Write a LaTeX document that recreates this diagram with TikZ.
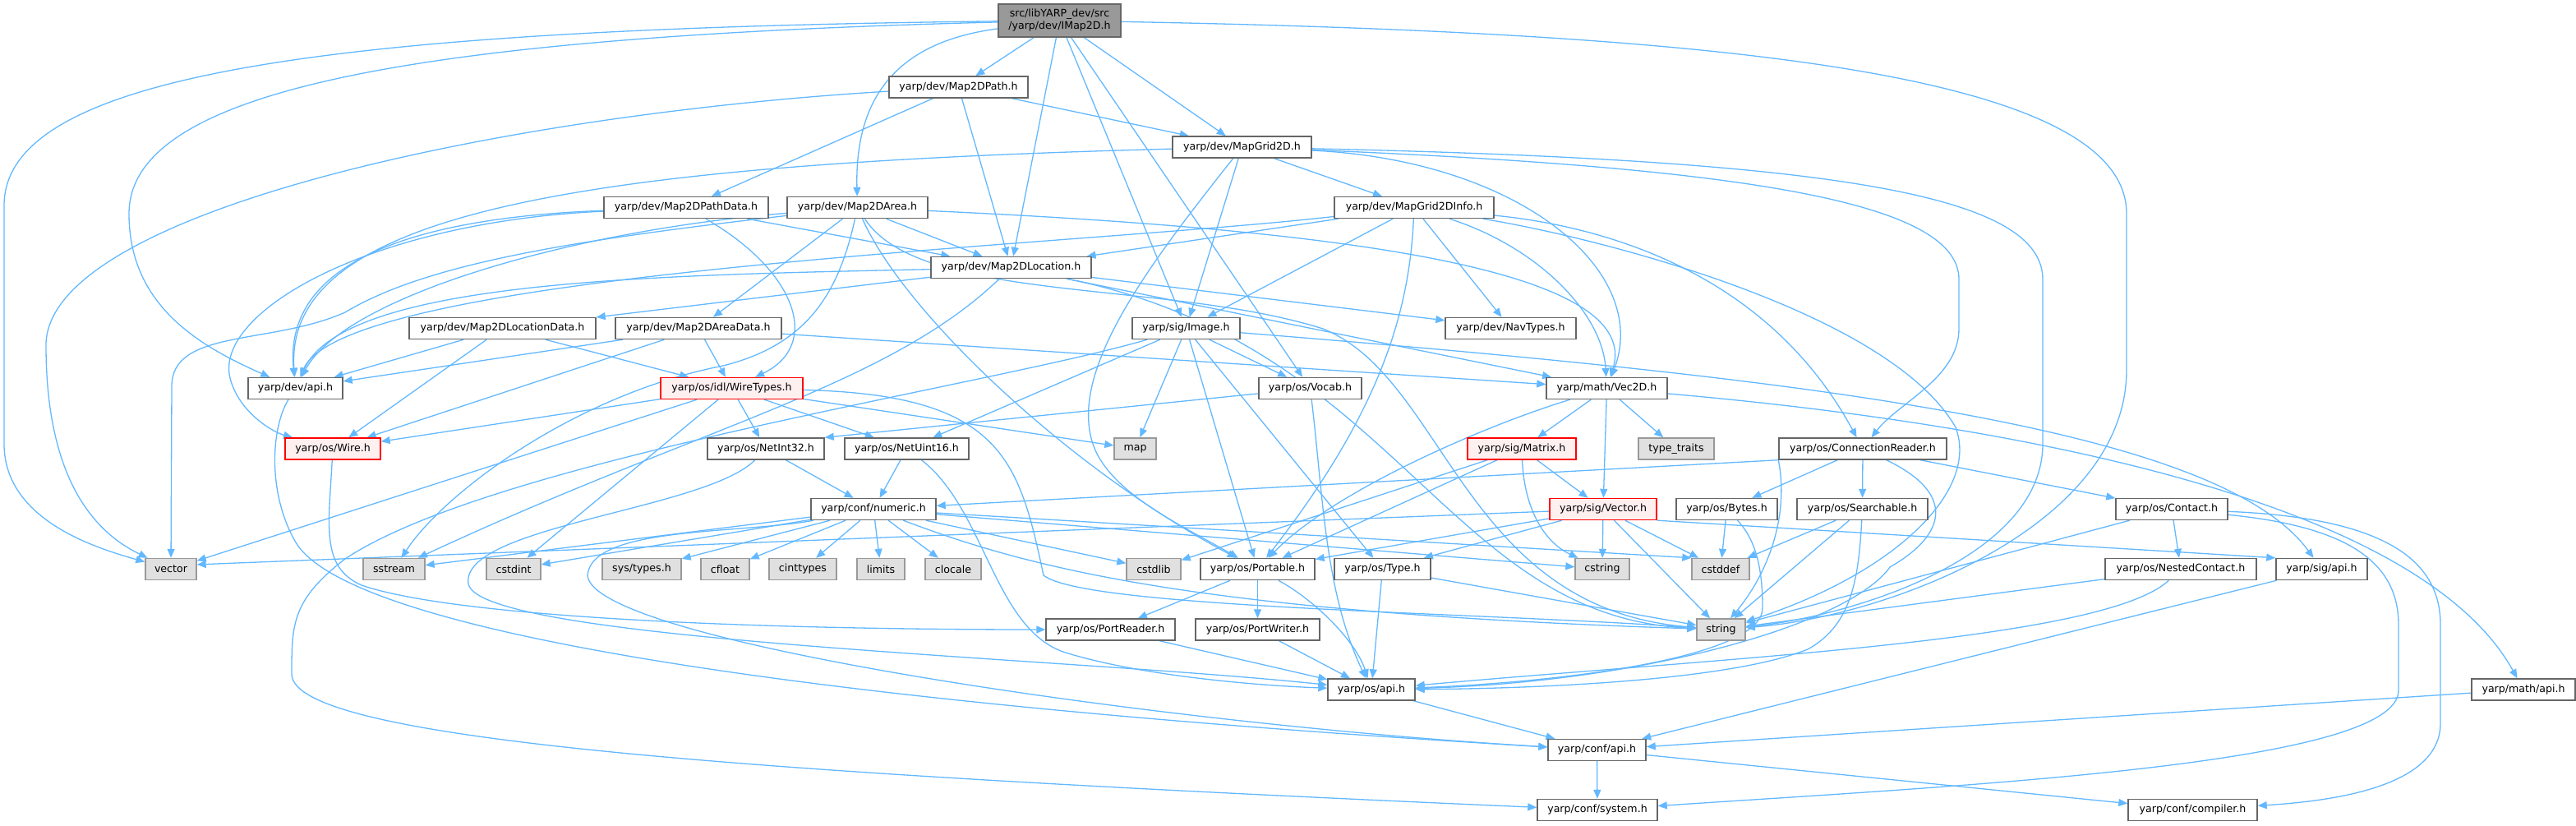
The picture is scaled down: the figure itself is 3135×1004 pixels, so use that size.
\documentclass[tikz,border=0pt]{standalone}
\usepackage{fontspec}
\setmainfont{DejaVu Sans}
\usetikzlibrary{arrows.meta}
\definecolor{edgec}{RGB}{99,184,255}
\definecolor{nbord}{RGB}{102,102,102}
\definecolor{sfill}{RGB}{224,224,224}
\definecolor{sbord}{RGB}{153,153,153}
\definecolor{tfill}{RGB}{153,153,153}
\definecolor{rfill}{RGB}{255,240,240}
\definecolor{rbord}{RGB}{255,0,0}
\pgfdeclarelayer{bg}
\pgfsetlayers{bg,main}
\newcommand{\mkn}[5][nbox]{\node[#1,minimum width=#4pt] (#2) at (#3) {#5};}
\begin{document}
\begin{tikzpicture}[x=1pt,y=-1pt,
  nbox/.style={draw=nbord,fill=white,line width=1.4pt,minimum height=26pt,inner sep=0pt,font=\fontsize{12.6}{15}\selectfont},
  sbox/.style={nbox,draw=sbord,fill=sfill},
  rbox/.style={nbox,draw=rbord,fill=rfill},
  tbox/.style={nbox,fill=tfill},
  lnk/.style={draw=edgec,line width=1.3pt,-{Triangle[length=11pt,width=9pt]}}]
\path[use as bounding box] (0,0) rectangle (3135,1004);

\node[tbox,minimum width=149pt,minimum height=40pt,align=center] (root) at (1289.5,25) {src/libYARP\_dev/src\\/yarp/dev/IMap2D.h};
\mkn{path}{1166.5,106}{169}{yarp/dev/Map2DPath.h}
\mkn{grid}{1511.5,179}{169}{yarp/dev/MapGrid2D.h}
\mkn{pathdata}{835,252.5}{200}{yarp/dev/Map2DPathData.h}
\mkn{area}{1043.5,252.5}{171}{yarp/dev/Map2DArea.h}
\mkn{gridinfo}{1721,252.5}{194}{yarp/dev/MapGrid2DInfo.h}
\mkn{loc}{1230.5,325.5}{195}{yarp/dev/Map2DLocation.h}
\mkn{locdata}{611.5,399.5}{227}{yarp/dev/Map2DLocationData.h}
\mkn{areadata}{850,399.5}{202}{yarp/dev/Map2DAreaData.h}
\mkn{image}{1443.5,399.5}{131}{yarp/sig/Image.h}
\mkn{navtypes}{1838.5,399.5}{159}{yarp/dev/NavTypes.h}
\mkn{devapi}{359.5,472.5}{115}{yarp/dev/api.h}
\mkn[rbox]{wiretypes}{890.5,472.5}{173}{yarp/os/idl/WireTypes.h}
\mkn{vocab}{1594.5,472.5}{125}{yarp/os/Vocab.h}
\mkn{vec2d}{1955.5,472.5}{147}{yarp/math/Vec2D.h}
\mkn[rbox]{wire}{405,546}{116}{yarp/os/Wire.h}
\mkn{netint32}{932,546}{142}{yarp/os/NetInt32.h}
\mkn{netuint16}{1103.5,546}{151}{yarp/os/NetUint16.h}
\mkn[sbox]{map}{1381.5,546}{51}{map}
\mkn[rbox]{matrix}{1852,546}{132}{yarp/sig/Matrix.h}
\mkn[sbox]{typetraits}{2040,546}{92}{type\_traits}
\mkn{connreader}{2267,546}{204}{yarp/os/ConnectionReader.h}
\mkn{numeric}{1063,619.5}{152}{yarp/conf/numeric.h}
\mkn[rbox]{vectorh}{1951,619.5}{130}{yarp/sig/Vector.h}
\mkn{bytes}{2101.5,619.5}{123}{yarp/os/Bytes.h}
\mkn{searchable}{2266.5,619.5}{159}{yarp/os/Searchable.h}
\mkn{contact}{2643,619.5}{136}{yarp/os/Contact.h}
\mkn[sbox]{vector}{208,692.5}{62}{vector}
\mkn[sbox]{sstream}{479.5,692.5}{75}{sstream}
\mkn[sbox]{cstdint}{625,692.5}{66}{cstdint}
\mkn[sbox]{systypes}{781,692.5}{96}{sys/types.h}
\mkn[sbox]{cfloat}{882.5,692.5}{59}{cfloat}
\mkn[sbox]{cinttypes}{977,692.5}{82}{cinttypes}
\mkn[sbox]{limits}{1072,692.5}{58}{limits}
\mkn[sbox]{clocale}{1160,692.5}{68}{clocale}
\mkn[sbox]{cstdlib}{1404,692.5}{66}{cstdlib}
\mkn{portable}{1530.5,692.5}{139}{yarp/os/Portable.h}
\mkn{type}{1682.5,692.5}{117}{yarp/os/Type.h}
\mkn[sbox]{cstring}{1950,692.5}{66}{cstring}
\mkn[sbox]{cstddef}{2094,692.5}{70}{cstddef}
\mkn{nested}{2654,692.5}{184}{yarp/os/NestedContact.h}
\mkn{sigapi}{2825.5,692.5}{111}{yarp/sig/api.h}
\mkn{portreader}{1351.5,766}{157}{yarp/os/PortReader.h}
\mkn{portwriter}{1530.5,766}{151}{yarp/os/PortWriter.h}
\mkn[sbox]{string}{2094.5,766}{59}{string}
\mkn{osapi}{1669,839}{106}{yarp/os/api.h}
\mkn{mathapi}{3071,839}{126}{yarp/math/api.h}
\mkn{confapi}{1943.5,912.5}{119}{yarp/conf/api.h}
\mkn{system}{1944,985.5}{146}{yarp/conf/system.h}
\mkn{compiler}{2668.5,985.5}{157}{yarp/conf/compiler.h}

\begin{pgfonlayer}{bg}
% root
\draw[lnk] (root) .. controls (400,35) and (5,90) .. (5,250) -- (5,540) .. controls (5,630) and (110,665) .. (vector);
\draw[lnk] (root) .. controls (500,45) and (157,110) .. (157,260) .. controls (157,370) and (240,420) .. (devapi);
\draw[lnk] (root) -- (path);
\draw[lnk] (root) .. controls (1100,50) and (1040,110) .. (area);
\draw[lnk] (root) -- (loc);
\draw[lnk] (root) -- (image);
\draw[lnk] (root) -- (vocab);
\draw[lnk] (root) -- (grid);
\draw[lnk] (root) .. controls (2100,40) and (2588,90) .. (2588,260) -- (2588,450) .. controls (2588,640) and (2300,750) .. (string);
% path
\draw[lnk] (path) .. controls (600,140) and (56,260) .. (56,420) .. controls (56,590) and (120,650) .. (vector);
\draw[lnk] (path) -- (pathdata);
\draw[lnk] (path) -- (loc);
\draw[lnk] (path) -- (grid);
% grid
\draw[lnk] (grid) .. controls (700,200) and (345,260) .. (devapi);
\draw[lnk] (grid) .. controls (1400,320) and (1300,450) .. (1330,540) .. controls (1350,600) and (1440,640) .. (portable);
\draw[lnk] (grid) -- (image);
\draw[lnk] (grid) -- (gridinfo);
\draw[lnk] (grid) .. controls (1850,195) and (2010,330) .. (vec2d);
\draw[lnk] (grid) .. controls (2150,205) and (2384,250) .. (2384,340) -- (2384,400) .. controls (2384,460) and (2310,490) .. (connreader);
\draw[lnk] (grid) .. controls (2250,195) and (2486,240) .. (2486,340) -- (2486,540) .. controls (2486,680) and (2250,750) .. (string);
% pathdata
\draw[lnk] (pathdata) .. controls (500,265) and (345,320) .. (devapi);
\draw[lnk] (pathdata) .. controls (450,270) and (260,380) .. (280,460) .. controls (290,500) and (330,525) .. (wire);
\draw[lnk] (pathdata) .. controls (970,330) and (1000,420) .. (wiretypes);
\draw[lnk] (pathdata) -- (loc);
% area
\draw[lnk] (area) .. controls (700,280) and (420,360) .. (devapi);
\draw[lnk] (area) .. controls (700,292) and (520,320) .. (420,380) .. controls (330,420) and (209,400) .. (209,470) -- (vector);
\draw[lnk] (area) -- (areadata);
\draw[lnk] (area) -- (loc);
\draw[lnk] (area) .. controls (1650,280) and (2000,330) .. (vec2d);
\draw[lnk] (area) .. controls (1100,380) and (1300,570) .. (portable);
\draw[lnk] (area) .. controls (1120,370) and (1420,340) .. (1610,400) .. controls (1760,460) and (1780,740) .. (string);
\draw[lnk] (area) .. controls (1020,360) and (980,420) .. (880,445) .. controls (700,480) and (540,600) .. (sstream);
% gridinfo
\draw[lnk] (gridinfo) .. controls (1300,300) and (420,330) .. (devapi);
\draw[lnk] (gridinfo) -- (loc);
\draw[lnk] (gridinfo) -- (image);
\draw[lnk] (gridinfo) .. controls (1715,380) and (1680,500) .. (portable);
\draw[lnk] (gridinfo) -- (navtypes);
\draw[lnk] (gridinfo) .. controls (1870,300) and (1950,380) .. (vec2d);
\draw[lnk] (gridinfo) .. controls (1950,275) and (2150,330) .. (connreader);
\draw[lnk] (gridinfo) .. controls (1950,290) and (2300,380) .. (2380,520) .. controls (2410,600) and (2300,700) .. (string);
% loc
\draw[lnk] (loc) .. controls (800,335) and (420,340) .. (devapi);
\draw[lnk] (loc) -- (locdata);
\draw[lnk] (loc) -- (navtypes);
\draw[lnk] (loc) -- (vec2d);
\draw[lnk] (loc) .. controls (1080,470) and (850,520) .. (sstream);
\draw[lnk] (loc) .. controls (1700,420) and (1760,750) .. (string);
% locdata, areadata
\draw[lnk] (locdata) -- (devapi);
\draw[lnk] (locdata) -- (wire);
\draw[lnk] (locdata) -- (wiretypes);
\draw[lnk] (areadata) -- (devapi);
\draw[lnk] (areadata) -- (wire);
\draw[lnk] (areadata) -- (wiretypes);
\draw[lnk] (areadata) -- (vec2d);
% devapi
\draw[lnk] (devapi) .. controls (330,520) and (325,600) .. (360,660) .. controls (420,760) and (900,850) .. (confapi);
% wiretypes
\draw[lnk] (wiretypes) -- (wire);
\draw[lnk] (wiretypes) -- (netint32);
\draw[lnk] (wiretypes) -- (netuint16);
\draw[lnk] (wiretypes) -- (map);
\draw[lnk] (wiretypes) .. controls (1220,480) and (1240,560) .. (1270,700) .. controls (1320,740) and (1800,745) .. (string);
\draw[lnk] (wiretypes) -- (vector);
\draw[lnk] (wiretypes) -- (cstdint);
% vocab
\draw[lnk] (vocab) -- (netint32.north east);
\draw[lnk] (vocab) .. controls (1610,600) and (1612,720) .. (osapi);
% vec2d
\draw[lnk] (vec2d) -- (matrix);
\draw[lnk] (vec2d) -- (vectorh);
\draw[lnk] (vec2d) -- (typetraits);
\draw[lnk] (vec2d) .. controls (2500,520) and (2950,620) .. (mathapi);
\draw[lnk] (vec2d) .. controls (1800,520) and (1620,600) .. (portable);
% matrix
\draw[lnk] (matrix) -- (vectorh);
\draw[lnk] (matrix) -- (portable);
\draw[lnk] (matrix) -- (cstdlib);
\draw[lnk] (matrix) .. controls (1855,620) and (1880,660) .. (cstring);
% vector.h
\draw[lnk] (vectorh) -- (vector.10);
\draw[lnk] (vectorh) -- (portable);
\draw[lnk] (vectorh) -- (type);
\draw[lnk] (vectorh) -- (cstring);
\draw[lnk] (vectorh) -- (cstddef);
\draw[lnk] (vectorh) -- (string);
\draw[lnk] (vectorh.south east) -- (sigapi.north west);
% connreader
\draw[lnk] (connreader.south west) -- (numeric);
\draw[lnk] (connreader) -- (bytes);
\draw[lnk] (connreader) -- (searchable);
\draw[lnk] (connreader) -- (contact);
\draw[lnk] (connreader) .. controls (2380,600) and (2370,650) .. (2300,690) .. controls (2250,760) and (2000,830) .. (osapi);
\draw[lnk] (connreader.south west) .. controls (2178,630) and (2150,700) .. (string);
% bytes, searchable
\draw[lnk] (bytes) -- (cstddef);
\draw[lnk] (bytes) .. controls (2140,660) and (2145,700) .. (2145,740) .. controls (2145,800) and (1900,830) .. (osapi);
\draw[lnk] (searchable) -- (cstddef);
\draw[lnk] (searchable) -- (string);
\draw[lnk] (searchable) .. controls (2262,700) and (2255,760) .. (2200,790) .. controls (2100,830) and (1850,838) .. (osapi);
% contact
\draw[lnk] (contact) -- (nested);
\draw[lnk] (contact) -- (string);
\draw[lnk] (contact) .. controls (2850,640) and (2919,680) .. (2919,760) -- (2919,840) .. controls (2919,930) and (2400,955) .. (system);
\draw[lnk] (contact) .. controls (2900,630) and (2970,680) .. (2970,760) -- (2970,880) .. controls (2970,960) and (2830,975) .. (compiler);
% nested
\draw[lnk] (nested) -- (string);
\draw[lnk] (nested) .. controls (2560,780) and (2100,800) .. (osapi);
% apis
\draw[lnk] (sigapi) -- (confapi);
\draw[lnk] (mathapi) -- (confapi);
\draw[lnk] (osapi) -- (confapi);
\draw[lnk] (confapi) -- (system);
\draw[lnk] (confapi) -- (compiler);
% portable etc
\draw[lnk] (portable) -- (portreader);
\draw[lnk] (portable) -- (portwriter);
\draw[lnk] (portable) .. controls (1600,730) and (1650,780) .. (osapi);
\draw[lnk] (portreader) -- (osapi);
\draw[lnk] (portwriter) -- (osapi);
\draw[lnk] (type) -- (osapi);
\draw[lnk] (type) -- (string);
% netint
\draw[lnk] (netint32) -- (numeric);
\draw[lnk] (netint32) .. controls (860,620) and (560,640) .. (570,710) .. controls (580,780) and (1300,800) .. (osapi);
\draw[lnk] (netuint16) -- (numeric);
\draw[lnk] (netuint16) .. controls (1200,620) and (1210,770) .. (1300,795) .. controls (1400,825) and (1550,835) .. (osapi);
% numeric
\draw[lnk] (numeric) -- (sstream);
\draw[lnk] (numeric) -- (cstdint);
\draw[lnk] (numeric) -- (systypes);
\draw[lnk] (numeric) -- (cfloat);
\draw[lnk] (numeric) -- (cinttypes);
\draw[lnk] (numeric) -- (limits);
\draw[lnk] (numeric) -- (clocale);
\draw[lnk] (numeric) -- (cstdlib);
\draw[lnk] (numeric) -- (cstring);
\draw[lnk] (numeric) -- (cstddef.north west);
\draw[lnk] (numeric) .. controls (1250,690) and (1450,745) .. (string);
\draw[lnk] (numeric) .. controls (900,650) and (720,640) .. (715,700) .. controls (720,780) and (1400,880) .. (confapi);
% image
\draw[lnk] (image) .. controls (1200,470) and (600,560) .. (420,680) .. controls (355,730) and (355,760) .. (355,820) .. controls (355,900) and (900,940) .. (system);
\draw[lnk] (image) -- (portable);
\draw[lnk] (image) -- (type);
\draw[lnk] (image) -- (vocab);
\draw[lnk] (image) -- (netuint16);
\draw[lnk] (image) -- (map);
\draw[lnk] (image) .. controls (2200,460) and (2700,520) .. (sigapi);
% wire
\draw[lnk] (wire) .. controls (400,640) and (390,690) .. (440,712) .. controls (550,750) and (900,766) .. (portreader);
\end{pgfonlayer}
\end{tikzpicture}
\end{document}
